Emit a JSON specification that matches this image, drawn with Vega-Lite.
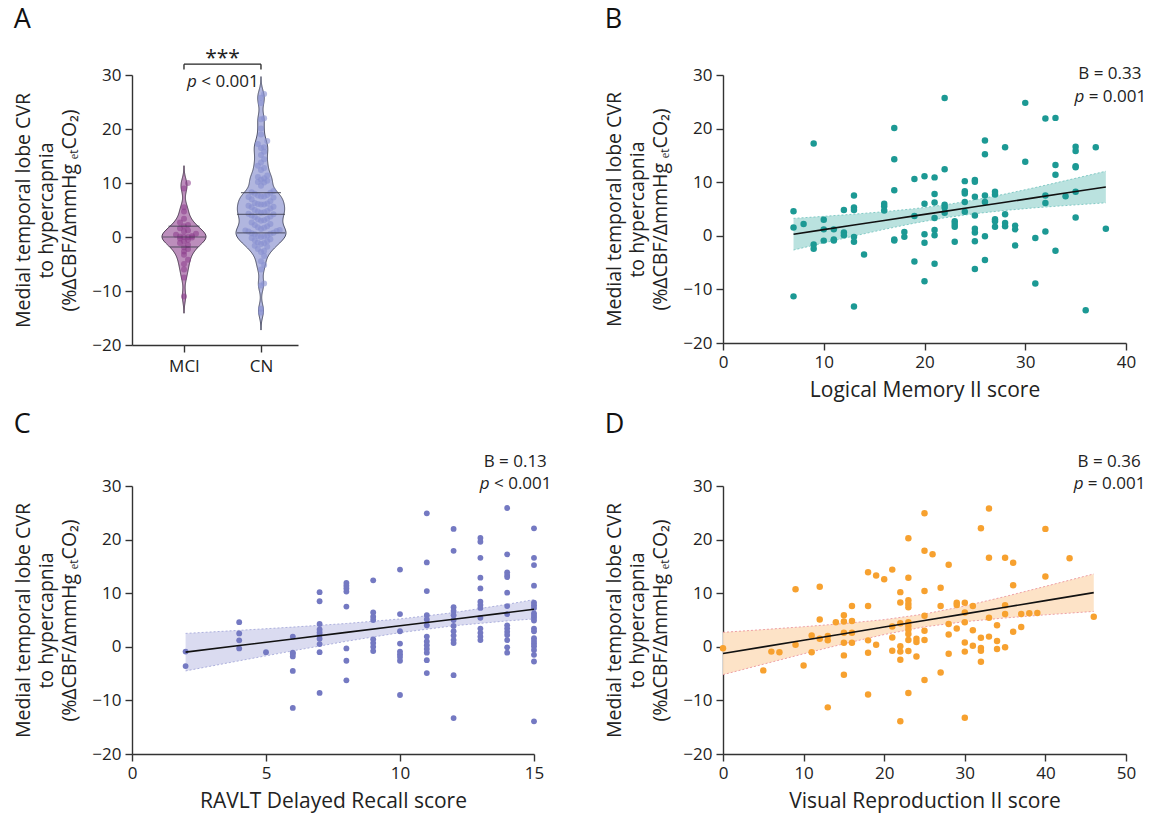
{
  "$schema": "https://vega.github.io/schema/vega-lite/v6.json",
  "background": "white",
  "padding": {"left": 13, "top": 5, "right": 5, "bottom": 5},
  "bounds": "flush",
  "align": "all",
  "columns": 2,
  "spacing": {"row": 141, "column": 188},
  "config": {
    "font": "Open Sans",
    "view": {"stroke": null},
    "axis": {"grid": false, "labelFontSize": 17, "titleFontSize": 19.5, "titleFontWeight": "normal", "labelColor": "#222", "titleColor": "#222", "domainColor": "#333", "tickColor": "#333", "domainWidth": 1.4, "tickWidth": 1.4, "tickSize": 7, "labelPadding": 4, "labelFlush": false, "titlePadding": 10, "labelFont": "Open Sans", "titleFont": "Open Sans"},
    "axisX": {"titleFontSize": 21, "titlePadding": 9},
    "axisY": {"titleLineHeight": 23, "titlePadding": 12},
    "title": {"fontSize": 27, "fontWeight": "normal", "anchor": "start", "frame": "bounds", "color": "#111", "font": "Open Sans"},
    "text": {"font": "Open Sans", "fontSize": 17, "color": "#222"}
  },
  "datasets": {
    "violinA": [
      {"group": "MCI", "value": 10.0}, {"group": "MCI", "value": 9.0}, {"group": "MCI", "value": 5.5}, {"group": "MCI", "value": 4.7},
      {"group": "MCI", "value": 3.4}, {"group": "MCI", "value": 2.7}, {"group": "MCI", "value": 2.2}, {"group": "MCI", "value": 2.0},
      {"group": "MCI", "value": 1.6}, {"group": "MCI", "value": 1.2}, {"group": "MCI", "value": 1.0}, {"group": "MCI", "value": 0.6},
      {"group": "MCI", "value": 0.4}, {"group": "MCI", "value": 0.2}, {"group": "MCI", "value": 0.1}, {"group": "MCI", "value": 0.0},
      {"group": "MCI", "value": 0.0}, {"group": "MCI", "value": -0.1}, {"group": "MCI", "value": -0.3}, {"group": "MCI", "value": -0.5},
      {"group": "MCI", "value": -0.8}, {"group": "MCI", "value": -1.1}, {"group": "MCI", "value": -1.5}, {"group": "MCI", "value": -1.9},
      {"group": "MCI", "value": -2.2}, {"group": "MCI", "value": -2.7}, {"group": "MCI", "value": -3.3}, {"group": "MCI", "value": -4.2},
      {"group": "MCI", "value": -5.0}, {"group": "MCI", "value": -6.0}, {"group": "MCI", "value": -7.5}, {"group": "MCI", "value": -11.0},
      {"group": "CN", "value": 26.5}, {"group": "CN", "value": 25.8}, {"group": "CN", "value": 24.8}, {"group": "CN", "value": 22.0},
      {"group": "CN", "value": 21.8}, {"group": "CN", "value": 20.1}, {"group": "CN", "value": 19.0}, {"group": "CN", "value": 17.8},
      {"group": "CN", "value": 17.2}, {"group": "CN", "value": 16.6}, {"group": "CN", "value": 16.5}, {"group": "CN", "value": 15.8},
      {"group": "CN", "value": 15.2}, {"group": "CN", "value": 14.4}, {"group": "CN", "value": 13.8}, {"group": "CN", "value": 13.2},
      {"group": "CN", "value": 12.8}, {"group": "CN", "value": 12.4}, {"group": "CN", "value": 11.4}, {"group": "CN", "value": 11.1},
      {"group": "CN", "value": 10.9}, {"group": "CN", "value": 10.6}, {"group": "CN", "value": 10.4}, {"group": "CN", "value": 10.2},
      {"group": "CN", "value": 10.1}, {"group": "CN", "value": 9.5}, {"group": "CN", "value": 8.5}, {"group": "CN", "value": 8.3},
      {"group": "CN", "value": 8.2}, {"group": "CN", "value": 8.0}, {"group": "CN", "value": 7.8}, {"group": "CN", "value": 7.7},
      {"group": "CN", "value": 7.5}, {"group": "CN", "value": 7.5}, {"group": "CN", "value": 7.4}, {"group": "CN", "value": 7.3},
      {"group": "CN", "value": 7.0}, {"group": "CN", "value": 6.6}, {"group": "CN", "value": 6.3}, {"group": "CN", "value": 6.2},
      {"group": "CN", "value": 6.1}, {"group": "CN", "value": 6.0}, {"group": "CN", "value": 6.0}, {"group": "CN", "value": 5.8},
      {"group": "CN", "value": 5.6}, {"group": "CN", "value": 5.5}, {"group": "CN", "value": 5.3}, {"group": "CN", "value": 5.0},
      {"group": "CN", "value": 4.8}, {"group": "CN", "value": 4.7}, {"group": "CN", "value": 4.6}, {"group": "CN", "value": 4.5},
      {"group": "CN", "value": 4.3}, {"group": "CN", "value": 4.2}, {"group": "CN", "value": 4.0}, {"group": "CN", "value": 3.8},
      {"group": "CN", "value": 3.7}, {"group": "CN", "value": 3.4}, {"group": "CN", "value": 3.3}, {"group": "CN", "value": 3.1},
      {"group": "CN", "value": 3.0}, {"group": "CN", "value": 2.7}, {"group": "CN", "value": 2.4}, {"group": "CN", "value": 2.2},
      {"group": "CN", "value": 2.0}, {"group": "CN", "value": 1.8}, {"group": "CN", "value": 1.7}, {"group": "CN", "value": 1.5},
      {"group": "CN", "value": 1.3}, {"group": "CN", "value": 1.2}, {"group": "CN", "value": 1.1}, {"group": "CN", "value": 1.0},
      {"group": "CN", "value": 0.8}, {"group": "CN", "value": 0.7}, {"group": "CN", "value": 0.6}, {"group": "CN", "value": 0.5},
      {"group": "CN", "value": 0.3}, {"group": "CN", "value": 0.2}, {"group": "CN", "value": 0.1}, {"group": "CN", "value": 0.0},
      {"group": "CN", "value": -0.2}, {"group": "CN", "value": -0.4}, {"group": "CN", "value": -0.6}, {"group": "CN", "value": -0.8},
      {"group": "CN", "value": -1.0}, {"group": "CN", "value": -1.1}, {"group": "CN", "value": -1.3}, {"group": "CN", "value": -1.6},
      {"group": "CN", "value": -1.8}, {"group": "CN", "value": -2.2}, {"group": "CN", "value": -2.6}, {"group": "CN", "value": -2.8},
      {"group": "CN", "value": -3.5}, {"group": "CN", "value": -4.5}, {"group": "CN", "value": -5.2}, {"group": "CN", "value": -6.0},
      {"group": "CN", "value": -8.6}, {"group": "CN", "value": -9.0}, {"group": "CN", "value": -13.3}, {"group": "CN", "value": -14.0}
    ],
    "quartilesA": [
      {"group": "MCI", "stat": "q1", "value": -1.85}, {"group": "MCI", "stat": "median", "value": 0.0}, {"group": "MCI", "stat": "q3", "value": 2.0},
      {"group": "CN", "stat": "q1", "value": 0.75}, {"group": "CN", "stat": "median", "value": 4.2}, {"group": "CN", "stat": "q3", "value": 8.2}
    ],
    "bandB": [
      {"x": 7, "lo": -2.65, "fit": 0.3, "hi": 3.25}, {"x": 10, "lo": -1.33, "fit": 1.15, "hi": 3.63},
      {"x": 13, "lo": -0.04, "fit": 2.0, "hi": 4.04}, {"x": 16, "lo": 1.2, "fit": 2.85, "hi": 4.5},
      {"x": 19, "lo": 2.36, "fit": 3.71, "hi": 5.06}, {"x": 22, "lo": 3.36, "fit": 4.56, "hi": 5.76},
      {"x": 25, "lo": 4.13, "fit": 5.41, "hi": 6.69}, {"x": 28, "lo": 4.73, "fit": 6.26, "hi": 7.79},
      {"x": 31, "lo": 5.23, "fit": 7.12, "hi": 9.01}, {"x": 34, "lo": 5.64, "fit": 7.97, "hi": 10.3},
      {"x": 38, "lo": 6.15, "fit": 9.1, "hi": 12.05}
    ],
    "pointsB": [
      {"x": 7, "y": 4.6}, {"x": 7, "y": 1.55}, {"x": 7, "y": -11.3}, {"x": 8, "y": 2.2},
      {"x": 9, "y": 17.2}, {"x": 9, "y": -1.6}, {"x": 9, "y": -2.4},
      {"x": 10, "y": 3.0}, {"x": 10, "y": 1.2}, {"x": 10, "y": -0.9},
      {"x": 11, "y": 1.2}, {"x": 11, "y": -0.7}, {"x": 11, "y": -0.9},
      {"x": 12, "y": 4.8}, {"x": 12, "y": 0.6}, {"x": 12, "y": 0.1},
      {"x": 13, "y": 7.5}, {"x": 13, "y": 5.3}, {"x": 13, "y": 4.8}, {"x": 13, "y": -0.2}, {"x": 13, "y": -1.1}, {"x": 13, "y": -13.2},
      {"x": 14, "y": -3.5},
      {"x": 16, "y": 6.0}, {"x": 16, "y": 5.5}, {"x": 16, "y": 4.7},
      {"x": 17, "y": 20.1}, {"x": 17, "y": 14.3}, {"x": 17, "y": 8.5}, {"x": 17, "y": -0.7}, {"x": 17, "y": -0.9},
      {"x": 18, "y": 0.7}, {"x": 18, "y": -0.2},
      {"x": 19, "y": 10.6}, {"x": 19, "y": 3.7}, {"x": 19, "y": -4.8},
      {"x": 20, "y": 11.1}, {"x": 20, "y": 6.0}, {"x": 20, "y": 0.3}, {"x": 20, "y": -1.3}, {"x": 20, "y": -8.5},
      {"x": 21, "y": 10.9}, {"x": 21, "y": 7.8}, {"x": 21, "y": 6.2}, {"x": 21, "y": 3.3}, {"x": 21, "y": 1.1}, {"x": 21, "y": 0.1}, {"x": 21, "y": -5.2},
      {"x": 22, "y": 25.7}, {"x": 22, "y": 12.4}, {"x": 22, "y": 5.8}, {"x": 22, "y": 5.3}, {"x": 22, "y": 4.3},
      {"x": 23, "y": 2.7}, {"x": 23, "y": 2.2}, {"x": 23, "y": 1.7}, {"x": 23, "y": -1.1},
      {"x": 24, "y": 10.2}, {"x": 24, "y": 8.3}, {"x": 24, "y": 7.9}, {"x": 24, "y": 6.3}, {"x": 24, "y": 4.5},
      {"x": 25, "y": 10.4}, {"x": 25, "y": 10.1}, {"x": 25, "y": 7.3}, {"x": 25, "y": 3.8}, {"x": 25, "y": 1.3}, {"x": 25, "y": 0.6}, {"x": 25, "y": -1.0}, {"x": 25, "y": -6.2},
      {"x": 26, "y": 17.8}, {"x": 26, "y": 15.2}, {"x": 26, "y": 7.5}, {"x": 26, "y": 6.3}, {"x": 26, "y": -0.1}, {"x": 26, "y": -4.5},
      {"x": 27, "y": 8.2}, {"x": 27, "y": 7.7}, {"x": 27, "y": 3.1}, {"x": 27, "y": 2.7}, {"x": 27, "y": 1.7},
      {"x": 28, "y": 16.5}, {"x": 28, "y": 4.0}, {"x": 28, "y": 2.4}, {"x": 28, "y": 1.8},
      {"x": 29, "y": 1.9}, {"x": 29, "y": 1.2}, {"x": 29, "y": -1.8},
      {"x": 30, "y": 24.8}, {"x": 30, "y": 13.8},
      {"x": 31, "y": -0.4}, {"x": 31, "y": -8.9},
      {"x": 32, "y": 21.9}, {"x": 32, "y": 7.5}, {"x": 32, "y": 6.1}, {"x": 32, "y": 0.8},
      {"x": 33, "y": 22.0}, {"x": 33, "y": 13.2}, {"x": 33, "y": 11.4}, {"x": 33, "y": -2.8},
      {"x": 34, "y": 7.4},
      {"x": 35, "y": 16.6}, {"x": 35, "y": 15.8}, {"x": 35, "y": 13.0}, {"x": 35, "y": 12.8}, {"x": 35, "y": 8.2}, {"x": 35, "y": 3.4},
      {"x": 36, "y": -13.9}, {"x": 37, "y": 16.5}, {"x": 38, "y": 1.3}
    ],
    "bandC": [
      {"x": 2, "lo": -4.5, "fit": -1.0, "hi": 2.5}, {"x": 4, "lo": -2.61, "fit": 0.23, "hi": 3.07},
      {"x": 6, "lo": -0.76, "fit": 1.46, "hi": 3.68}, {"x": 8, "lo": 1.03, "fit": 2.69, "hi": 4.35},
      {"x": 10, "lo": 2.64, "fit": 3.92, "hi": 5.2}, {"x": 12, "lo": 3.92, "fit": 5.15, "hi": 6.38},
      {"x": 14, "lo": 4.83, "fit": 6.38, "hi": 7.93}, {"x": 15, "lo": 5.2, "fit": 7.0, "hi": 8.8}
    ],
    "pointsC": [
      {"x": 2, "y": -0.9}, {"x": 2, "y": -3.6},
      {"x": 4, "y": 4.6}, {"x": 4, "y": 2.5}, {"x": 4, "y": 1.2}, {"x": 4, "y": -0.3},
      {"x": 5, "y": -1.0},
      {"x": 6, "y": 1.9}, {"x": 6, "y": -1.1}, {"x": 6, "y": -1.3}, {"x": 6, "y": -1.8}, {"x": 6, "y": -4.5}, {"x": 6, "y": -11.4},
      {"x": 7, "y": 10.2}, {"x": 7, "y": 8.5}, {"x": 7, "y": 4.25}, {"x": 7, "y": 3.25}, {"x": 7, "y": 2.7}, {"x": 7, "y": 2.25}, {"x": 7, "y": 1.5}, {"x": 7, "y": 0.5}, {"x": 7, "y": -1.0}, {"x": 7, "y": -8.6},
      {"x": 8, "y": 11.9}, {"x": 8, "y": 11.4}, {"x": 8, "y": 10.9}, {"x": 8, "y": 10.3}, {"x": 8, "y": 7.5}, {"x": 8, "y": -0.3}, {"x": 8, "y": -2.6}, {"x": 8, "y": -6.25},
      {"x": 9, "y": 12.4}, {"x": 9, "y": 6.4}, {"x": 9, "y": 5.6}, {"x": 9, "y": 5.0}, {"x": 9, "y": 1.4}, {"x": 9, "y": 0.7}, {"x": 9, "y": 0.0}, {"x": 9, "y": -0.8},
      {"x": 10, "y": 14.4}, {"x": 10, "y": 6.1}, {"x": 10, "y": 2.9}, {"x": 10, "y": 0.6}, {"x": 10, "y": -0.9}, {"x": 10, "y": -1.4}, {"x": 10, "y": -1.9}, {"x": 10, "y": -2.6}, {"x": 10, "y": -9.0},
      {"x": 11, "y": 24.9}, {"x": 11, "y": 15.75}, {"x": 11, "y": 10.4}, {"x": 11, "y": 5.9}, {"x": 11, "y": 5.1}, {"x": 11, "y": 4.0}, {"x": 11, "y": 1.9}, {"x": 11, "y": 1.0}, {"x": 11, "y": 0.3}, {"x": 11, "y": -0.4}, {"x": 11, "y": -1.1}, {"x": 11, "y": -2.5}, {"x": 11, "y": -4.9},
      {"x": 12, "y": 22.0}, {"x": 12, "y": 17.9}, {"x": 12, "y": 7.4}, {"x": 12, "y": 6.7}, {"x": 12, "y": 5.9}, {"x": 12, "y": 5.0}, {"x": 12, "y": 3.9}, {"x": 12, "y": 2.9}, {"x": 12, "y": 2.1}, {"x": 12, "y": 1.25}, {"x": 12, "y": 0.7}, {"x": 12, "y": -5.3}, {"x": 12, "y": -13.3},
      {"x": 13, "y": 20.3}, {"x": 13, "y": 19.6}, {"x": 13, "y": 16.6}, {"x": 13, "y": 12.9}, {"x": 13, "y": 10.9}, {"x": 13, "y": 8.4}, {"x": 13, "y": 7.8}, {"x": 13, "y": 7.25}, {"x": 13, "y": 5.4}, {"x": 13, "y": 3.4}, {"x": 13, "y": 2.6}, {"x": 13, "y": 1.9}, {"x": 13, "y": 1.25},
      {"x": 14, "y": 25.9}, {"x": 14, "y": 17.25}, {"x": 14, "y": 13.9}, {"x": 14, "y": 13.4}, {"x": 14, "y": 13.0}, {"x": 14, "y": 10.1}, {"x": 14, "y": 7.6}, {"x": 14, "y": 6.1}, {"x": 14, "y": 4.0}, {"x": 14, "y": 3.4}, {"x": 14, "y": 2.8}, {"x": 14, "y": 2.2}, {"x": 14, "y": 1.25}, {"x": 14, "y": -0.1}, {"x": 14, "y": -1.1},
      {"x": 15, "y": 22.1}, {"x": 15, "y": 16.6}, {"x": 15, "y": 15.25}, {"x": 15, "y": 11.4}, {"x": 15, "y": 8.25}, {"x": 15, "y": 7.75}, {"x": 15, "y": 7.25}, {"x": 15, "y": 6.25}, {"x": 15, "y": 5.8}, {"x": 15, "y": 5.4}, {"x": 15, "y": 4.9}, {"x": 15, "y": 3.4}, {"x": 15, "y": 2.9}, {"x": 15, "y": 1.6}, {"x": 15, "y": 1.1}, {"x": 15, "y": 0.6}, {"x": 15, "y": 0.1}, {"x": 15, "y": -0.6}, {"x": 15, "y": -1.5}, {"x": 15, "y": -2.75}, {"x": 15, "y": -13.9}
    ],
    "bandD": [
      {"x": 0, "lo": -5.2, "fit": -1.25, "hi": 2.7}, {"x": 5, "lo": -3.25, "fit": -0.02, "hi": 3.21},
      {"x": 10, "lo": -1.31, "fit": 1.22, "hi": 3.75}, {"x": 15, "lo": 0.56, "fit": 2.45, "hi": 4.34},
      {"x": 20, "lo": 2.29, "fit": 3.68, "hi": 5.07}, {"x": 25, "lo": 3.72, "fit": 4.92, "hi": 6.12},
      {"x": 30, "lo": 4.69, "fit": 6.15, "hi": 7.61}, {"x": 35, "lo": 5.38, "fit": 7.38, "hi": 9.38},
      {"x": 40, "lo": 5.96, "fit": 8.62, "hi": 11.28}, {"x": 46, "lo": 6.6, "fit": 10.1, "hi": 13.6}
    ],
    "pointsD": [
      {"x": 0, "y": -0.25}, {"x": 5, "y": -4.4}, {"x": 6, "y": -0.9}, {"x": 7, "y": -1.0},
      {"x": 9, "y": 10.75}, {"x": 9, "y": 0.4}, {"x": 10, "y": -3.5}, {"x": 11, "y": -1.0}, {"x": 11, "y": 2.1},
      {"x": 12, "y": 11.2}, {"x": 12, "y": 5.1}, {"x": 12, "y": 1.5},
      {"x": 13, "y": 2.0}, {"x": 13, "y": 1.2}, {"x": 13, "y": -11.3}, {"x": 14, "y": 4.6},
      {"x": 15, "y": 5.9}, {"x": 15, "y": 4.7}, {"x": 15, "y": 2.6}, {"x": 15, "y": 0.75}, {"x": 15, "y": -1.6}, {"x": 15, "y": -5.2},
      {"x": 16, "y": 7.6}, {"x": 16, "y": 4.8}, {"x": 16, "y": 2.6}, {"x": 16, "y": 0.75},
      {"x": 18, "y": 13.9}, {"x": 18, "y": 7.6}, {"x": 18, "y": 1.2}, {"x": 18, "y": -1.1}, {"x": 18, "y": -8.9},
      {"x": 19, "y": 13.3}, {"x": 19, "y": 0.4}, {"x": 20, "y": 12.6},
      {"x": 21, "y": 14.4}, {"x": 21, "y": 3.8}, {"x": 21, "y": 1.75}, {"x": 21, "y": -0.75},
      {"x": 22, "y": 10.2}, {"x": 22, "y": 8.25}, {"x": 22, "y": 4.4}, {"x": 22, "y": 0.1}, {"x": 22, "y": -0.9}, {"x": 22, "y": -2.4}, {"x": 22, "y": -13.9},
      {"x": 23, "y": 20.25}, {"x": 23, "y": 12.9}, {"x": 23, "y": 8.7}, {"x": 23, "y": 8.0}, {"x": 23, "y": 7.4}, {"x": 23, "y": 4.6}, {"x": 23, "y": 3.9}, {"x": 23, "y": 3.2}, {"x": 23, "y": 2.4}, {"x": 23, "y": 1.25}, {"x": 23, "y": -0.8}, {"x": 23, "y": -8.6},
      {"x": 24, "y": 1.5}, {"x": 24, "y": 0.9}, {"x": 24, "y": -1.8},
      {"x": 25, "y": 24.9}, {"x": 25, "y": 17.9}, {"x": 25, "y": 10.4}, {"x": 25, "y": 5.8}, {"x": 25, "y": 3.0}, {"x": 25, "y": 1.25}, {"x": 25, "y": -6.2},
      {"x": 26, "y": 17.25}, {"x": 27, "y": 11.0}, {"x": 27, "y": 7.6}, {"x": 27, "y": -4.8},
      {"x": 28, "y": 15.3}, {"x": 28, "y": 4.25}, {"x": 28, "y": 2.3}, {"x": 28, "y": -1.3},
      {"x": 29, "y": 8.2}, {"x": 29, "y": 7.8}, {"x": 29, "y": 3.4},
      {"x": 30, "y": 8.2}, {"x": 30, "y": 6.4}, {"x": 30, "y": 4.6}, {"x": 30, "y": 0.8}, {"x": 30, "y": -0.9}, {"x": 30, "y": -13.25},
      {"x": 31, "y": 7.6}, {"x": 31, "y": 3.1}, {"x": 31, "y": 0.2},
      {"x": 32, "y": 22.1}, {"x": 32, "y": 1.7}, {"x": 32, "y": -0.2}, {"x": 32, "y": -0.75}, {"x": 32, "y": -2.8},
      {"x": 33, "y": 25.8}, {"x": 33, "y": 16.6}, {"x": 33, "y": 5.4}, {"x": 33, "y": 1.9},
      {"x": 34, "y": 4.0}, {"x": 34, "y": 1.1}, {"x": 34, "y": -0.4},
      {"x": 35, "y": 16.6}, {"x": 35, "y": 7.75}, {"x": 35, "y": 6.1}, {"x": 35, "y": -0.1},
      {"x": 36, "y": 15.7}, {"x": 36, "y": 11.5}, {"x": 36, "y": 2.8},
      {"x": 37, "y": 6.1}, {"x": 37, "y": 3.7}, {"x": 38, "y": 6.25}, {"x": 39, "y": 6.3},
      {"x": 40, "y": 22.0}, {"x": 40, "y": 13.1}, {"x": 43, "y": 16.5}, {"x": 46, "y": 5.6}
    ]
  },
  "concat": [
    {
      "width": 166,
      "height": 270,
      "title": {"text": "A", "offset": 14},
      "layer": [
        {
          "data": {"name": "violinA"},
          "transform": [
            {"filter": "datum.group === 'MCI'"},
            {"density": "value", "bandwidth": 1.2, "extent": [-22, 33], "steps": 300, "counts": true},
            {"filter": "datum.density > 0.008"}
          ],
          "mark": {"type": "area", "orient": "horizontal", "fill": "#b07ab0", "fillOpacity": 0.85, "stroke": "#4d3a52", "strokeWidth": 1},
          "encoding": {
            "x": {"field": "density", "type": "quantitative", "stack": "center", "impute": null, "scale": {"range": [30, 74], "nice": false, "zero": true}, "axis": null},
            "y": {"field": "value", "type": "quantitative", "scale": {"domain": [-20, 30], "nice": false}, "axis": {"title": ["Medial temporal lobe CVR", "to hypercapnia", "(%ΔCBF/ΔmmHg ₑₜCO₂)"], "values": [-20, -10, 0, 10, 20, 30]}}
          }
        },
        {
          "data": {"name": "violinA"},
          "transform": [
            {"filter": "datum.group === 'CN'"},
            {"density": "value", "bandwidth": 1.2, "extent": [-22, 33], "steps": 300, "counts": true},
            {"filter": "datum.density > 0.008"}
          ],
          "mark": {"type": "area", "orient": "horizontal", "fill": "#a8aedb", "fillOpacity": 0.9, "stroke": "#4e5168", "strokeWidth": 1},
          "encoding": {
            "x": {"field": "density", "type": "quantitative", "stack": "center", "impute": null, "scale": {"range": [104, 154], "nice": false, "zero": true}, "axis": null},
            "y": {"field": "value", "type": "quantitative", "scale": {"domain": [-20, 30], "nice": false}}
          }
        },
        {
          "data": {"name": "violinA"},
          "transform": [
            {"filter": "datum.group === 'MCI'"},
            {"bin": {"step": 1}, "field": "value", "as": "vb"},
            {"window": [{"op": "row_number", "as": "rank"}], "groupby": ["vb"], "sort": [{"field": "value"}]}
          ],
          "mark": {"type": "circle", "size": 36, "color": "#8a3a8a", "opacity": 0.55},
          "encoding": {
            "x": {"field": "rank", "type": "ordinal", "scale": {"type": "point", "domain": [11, 9, 7, 5, 3, 1, 2, 4, 6, 8, 10], "range": [32, 72], "padding": 0}, "axis": null},
            "y": {"field": "value", "type": "quantitative", "scale": {"domain": [-20, 30], "nice": false}}
          }
        },
        {
          "data": {"name": "violinA"},
          "transform": [
            {"filter": "datum.group === 'CN'"},
            {"bin": {"step": 1.5}, "field": "value", "as": "vb"},
            {"window": [{"op": "row_number", "as": "rank"}], "groupby": ["vb"], "sort": [{"field": "value"}]}
          ],
          "mark": {"type": "circle", "size": 36, "color": "#8790d0", "opacity": 0.6},
          "encoding": {
            "x": {"field": "rank", "type": "ordinal", "scale": {"type": "point", "domain": [17, 15, 13, 11, 9, 7, 5, 3, 1, 2, 4, 6, 8, 10, 12, 14, 16], "range": [104, 154], "padding": 0}, "axis": null},
            "y": {"field": "value", "type": "quantitative", "scale": {"domain": [-20, 30], "nice": false}}
          }
        },
        {
          "layer": [
            {
              "data": {"name": "quartilesA"},
              "mark": {"type": "tick", "orient": "horizontal", "thickness": 1.2, "color": "#3a3a4a"},
              "encoding": {
                "x": {"field": "group", "type": "nominal", "scale": {"type": "point", "domain": ["MCI", "CN"], "padding": 0.578, "align": 0.584}, "axis": {"title": null, "labelAngle": 0, "labelPadding": 6}},
                "y": {"field": "value", "type": "quantitative", "scale": {"domain": [-20, 30], "nice": false}},
                "size": {
                  "condition": [
                    {"test": "datum.group === 'MCI' && datum.stat === 'q3'", "value": 31},
                    {"test": "datum.group === 'MCI' && datum.stat === 'median'", "value": 43},
                    {"test": "datum.group === 'MCI' && datum.stat === 'q1'", "value": 28},
                    {"test": "datum.group === 'CN' && datum.stat === 'q3'", "value": 40}
                  ],
                  "value": 48
                }
              }
            },
            {
              "data": {"values": [{}]},
              "mark": {"type": "rule", "color": "#222", "strokeWidth": 1.3},
              "encoding": {"x": {"datum": "MCI", "type": "nominal"}, "x2": {"datum": "CN"}, "y": {"datum": 32}}
            },
            {
              "data": {"values": [{}]},
              "mark": {"type": "rule", "color": "#222", "strokeWidth": 1.3},
              "encoding": {"x": {"datum": "MCI", "type": "nominal"}, "y": {"datum": 32}, "y2": {"datum": 31.0}}
            },
            {
              "data": {"values": [{}]},
              "mark": {"type": "rule", "color": "#222", "strokeWidth": 1.3},
              "encoding": {"x": {"datum": "CN", "type": "nominal"}, "y": {"datum": 32}, "y2": {"datum": 31.0}}
            },
            {
              "data": {"values": [{}]},
              "mark": {"type": "text", "text": "***", "fontSize": 21, "align": "center", "baseline": "middle", "dx": 38.5},
              "encoding": {"x": {"datum": "MCI", "type": "nominal"}, "y": {"datum": 33.0}}
            },
            {
              "data": {"values": [{}]},
              "mark": {"type": "text", "text": "p", "fontStyle": "italic", "align": "right", "baseline": "middle", "dx": 12.9},
              "encoding": {"x": {"datum": "MCI", "type": "nominal"}, "y": {"datum": 28.75}}
            },
            {
              "data": {"values": [{}]},
              "mark": {"type": "text", "text": "< 0.001", "align": "left", "baseline": "middle", "dx": 17.3},
              "encoding": {"x": {"datum": "MCI", "type": "nominal"}, "y": {"datum": 28.75}}
            }
          ]
        }
      ],
      "resolve": {"scale": {"x": "independent"}}
    },
    {
      "width": 403,
      "height": 268,
      "title": {"text": "B", "offset": 31},
      "layer": [
        {
          "data": {"name": "bandB"},
          "mark": {"type": "area", "fill": "#b3dfdb", "fillOpacity": 0.9},
          "encoding": {
            "x": {"field": "x", "type": "quantitative", "scale": {"domain": [0, 40], "nice": false}, "axis": {"title": "Logical Memory II score", "values": [0, 10, 20, 30, 40]}},
            "y": {"field": "lo", "type": "quantitative", "scale": {"domain": [-20, 30], "nice": false}, "axis": {"title": ["Medial temporal lobe CVR", "to hypercapnia", "(%ΔCBF/ΔmmHg ₑₜCO₂)"], "values": [-20, -10, 0, 10, 20, 30]}},
            "y2": {"field": "hi"}
          }
        },
        {
          "data": {"name": "bandB"},
          "mark": {"type": "line", "stroke": "#6cc0bb", "strokeWidth": 0.8, "strokeDash": [2, 2]},
          "encoding": {"x": {"field": "x", "type": "quantitative"}, "y": {"field": "lo", "type": "quantitative"}}
        },
        {
          "data": {"name": "bandB"},
          "mark": {"type": "line", "stroke": "#6cc0bb", "strokeWidth": 0.8, "strokeDash": [2, 2]},
          "encoding": {"x": {"field": "x", "type": "quantitative"}, "y": {"field": "hi", "type": "quantitative"}}
        },
        {
          "data": {"name": "pointsB"},
          "mark": {"type": "circle", "size": 42, "color": "#1c9994", "opacity": 1},
          "encoding": {"x": {"field": "x", "type": "quantitative"}, "y": {"field": "y", "type": "quantitative"}}
        },
        {
          "data": {"name": "bandB"},
          "mark": {"type": "line", "color": "#111", "strokeWidth": 1.6},
          "encoding": {"x": {"field": "x", "type": "quantitative"}, "y": {"field": "fit", "type": "quantitative"}}
        },
        {
          "data": {"values": [{}]},
          "mark": {"type": "text", "text": "B = 0.33", "align": "center", "baseline": "middle"},
          "encoding": {"x": {"datum": 38.4}, "y": {"datum": 30.1}}
        },
        {
          "data": {"values": [{}]},
          "mark": {"type": "text", "text": "p", "fontStyle": "italic", "align": "right", "baseline": "middle", "dx": -25.6},
          "encoding": {"x": {"datum": 38.4}, "y": {"datum": 25.9}}
        },
        {
          "data": {"values": [{}]},
          "mark": {"type": "text", "text": "= 0.001", "align": "left", "baseline": "middle", "dx": -21.2},
          "encoding": {"x": {"datum": 38.4}, "y": {"datum": 25.9}}
        }
      ]
    },
    {
      "width": 402,
      "height": 268,
      "title": {"text": "C", "offset": 14},
      "layer": [
        {
          "data": {"name": "bandC"},
          "mark": {"type": "area", "fill": "#d8d9ef", "fillOpacity": 0.95},
          "encoding": {
            "x": {"field": "x", "type": "quantitative", "scale": {"domain": [0, 15], "nice": false}, "axis": {"title": "RAVLT Delayed Recall score", "values": [0, 5, 10, 15]}},
            "y": {"field": "lo", "type": "quantitative", "scale": {"domain": [-20, 30], "nice": false}, "axis": {"title": ["Medial temporal lobe CVR", "to hypercapnia", "(%ΔCBF/ΔmmHg ₑₜCO₂)"], "values": [-20, -10, 0, 10, 20, 30]}},
            "y2": {"field": "hi"}
          }
        },
        {
          "data": {"name": "bandC"},
          "mark": {"type": "line", "stroke": "#9da1d6", "strokeWidth": 0.8, "strokeDash": [2, 2]},
          "encoding": {"x": {"field": "x", "type": "quantitative"}, "y": {"field": "lo", "type": "quantitative"}}
        },
        {
          "data": {"name": "bandC"},
          "mark": {"type": "line", "stroke": "#9da1d6", "strokeWidth": 0.8, "strokeDash": [2, 2]},
          "encoding": {"x": {"field": "x", "type": "quantitative"}, "y": {"field": "hi", "type": "quantitative"}}
        },
        {
          "data": {"name": "pointsC"},
          "mark": {"type": "circle", "size": 34, "color": "#7479c2", "opacity": 1},
          "encoding": {"x": {"field": "x", "type": "quantitative"}, "y": {"field": "y", "type": "quantitative"}}
        },
        {
          "data": {"name": "bandC"},
          "mark": {"type": "line", "color": "#111", "strokeWidth": 1.6},
          "encoding": {"x": {"field": "x", "type": "quantitative"}, "y": {"field": "fit", "type": "quantitative"}}
        },
        {
          "data": {"values": [{}]},
          "mark": {"type": "text", "text": "B = 0.13", "align": "center", "baseline": "middle"},
          "encoding": {"x": {"datum": 14.3}, "y": {"datum": 34.5}}
        },
        {
          "data": {"values": [{}]},
          "mark": {"type": "text", "text": "p", "fontStyle": "italic", "align": "right", "baseline": "middle", "dx": -25.6},
          "encoding": {"x": {"datum": 14.3}, "y": {"datum": 30.3}}
        },
        {
          "data": {"values": [{}]},
          "mark": {"type": "text", "text": "< 0.001", "align": "left", "baseline": "middle", "dx": -21.2},
          "encoding": {"x": {"datum": 14.3}, "y": {"datum": 30.3}}
        }
      ]
    },
    {
      "width": 403,
      "height": 268,
      "title": {"text": "D", "offset": 14},
      "layer": [
        {
          "data": {"name": "bandD"},
          "mark": {"type": "area", "fill": "#fde2c4", "fillOpacity": 0.95},
          "encoding": {
            "x": {"field": "x", "type": "quantitative", "scale": {"domain": [0, 50], "nice": false}, "axis": {"title": "Visual Reproduction II score", "values": [0, 10, 20, 30, 40, 50]}},
            "y": {"field": "lo", "type": "quantitative", "scale": {"domain": [-20, 30], "nice": false}, "axis": {"title": ["Medial temporal lobe CVR", "to hypercapnia", "(%ΔCBF/ΔmmHg ₑₜCO₂)"], "values": [-20, -10, 0, 10, 20, 30]}},
            "y2": {"field": "hi"}
          }
        },
        {
          "data": {"name": "bandD"},
          "mark": {"type": "line", "stroke": "#e98a96", "strokeWidth": 0.8, "strokeDash": [2, 2]},
          "encoding": {"x": {"field": "x", "type": "quantitative"}, "y": {"field": "lo", "type": "quantitative"}}
        },
        {
          "data": {"name": "bandD"},
          "mark": {"type": "line", "stroke": "#e98a96", "strokeWidth": 0.8, "strokeDash": [2, 2]},
          "encoding": {"x": {"field": "x", "type": "quantitative"}, "y": {"field": "hi", "type": "quantitative"}}
        },
        {
          "data": {"name": "pointsD"},
          "mark": {"type": "circle", "size": 42, "color": "#f7a12f", "opacity": 1},
          "encoding": {"x": {"field": "x", "type": "quantitative"}, "y": {"field": "y", "type": "quantitative"}}
        },
        {
          "data": {"name": "bandD"},
          "mark": {"type": "line", "color": "#111", "strokeWidth": 1.6},
          "encoding": {"x": {"field": "x", "type": "quantitative"}, "y": {"field": "fit", "type": "quantitative"}}
        },
        {
          "data": {"values": [{}]},
          "mark": {"type": "text", "text": "B = 0.36", "align": "center", "baseline": "middle"},
          "encoding": {"x": {"datum": 47.9}, "y": {"datum": 34.5}}
        },
        {
          "data": {"values": [{}]},
          "mark": {"type": "text", "text": "p", "fontStyle": "italic", "align": "right", "baseline": "middle", "dx": -25.6},
          "encoding": {"x": {"datum": 47.9}, "y": {"datum": 30.3}}
        },
        {
          "data": {"values": [{}]},
          "mark": {"type": "text", "text": "= 0.001", "align": "left", "baseline": "middle", "dx": -21.2},
          "encoding": {"x": {"datum": 47.9}, "y": {"datum": 30.3}}
        }
      ]
    }
  ]
}
